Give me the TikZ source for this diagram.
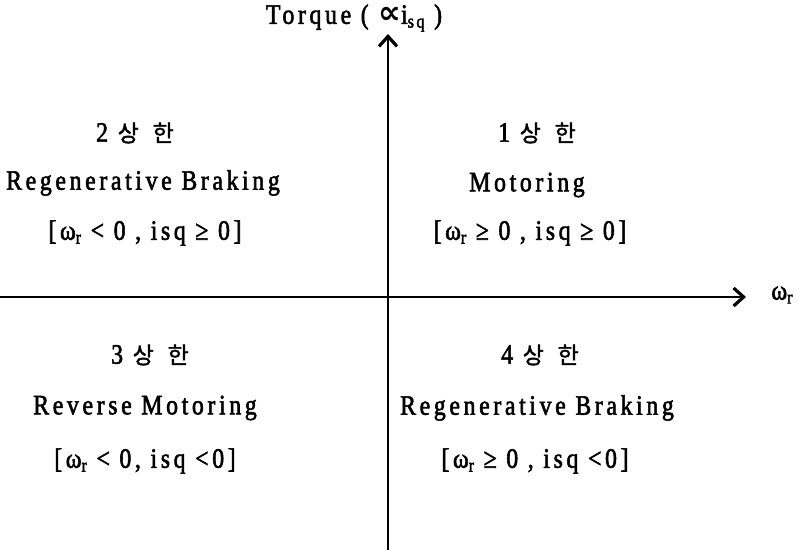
\documentclass[tikz,border=0pt]{standalone}
\usepackage{fontspec}
\setmainfont{Liberation Serif}[LetterSpace=13,FakeBold=2,FakeStretch=0.85]
\newfontfamily\kr{Noto Sans CJK KR}[FakeBold=1.5]
\newfontfamily\dv{DejaVu Sans}
\usetikzlibrary{arrows.meta}
\newcommand\mysub[1]{\raisebox{-0.3ex}{\fontsize{19}{19}\selectfont #1}}
\begin{document}
\begin{tikzpicture}[x=1pt,y=-1pt,
  lbl/.style={font=\fontsize{28}{30}\selectfont, inner sep=0pt, anchor=center},
  krl/.style={font=\fontsize{28}{30}\selectfont, inner sep=0pt, anchor=center},
  axis/.style={line width=2.6pt, -{Straight Barb[length=10pt,width=18pt,line width=3.2pt]}}]
\useasboundingbox (0,0) rectangle (805,552);
\coordinate (xl) at (0,297);
\coordinate (xr) at (746,297);
\coordinate (yb) at (388,550);
\coordinate (yt) at (388,34);
\draw[axis] (xl) -- (xr);
\draw[axis] (yb) -- (yt);
\node[lbl] (wr) at (782,295) {ω\mysub{r}};
\node[lbl] (tq) at (354,18) {Torque ( {\dv\bfseries\fontsize{32}{32}\selectfont ∝}i\mysub{sq} )};
% Quadrant 2
\node[krl] (q2a) at (135,133) {2 {\kr\fontsize{23}{24}\selectfont 상\hspace{0.6em}한}};
\node[lbl] (q2b) at (143,183) {Regenerative Braking};
\node[lbl] (q2c) at (145,233) {[ω\mysub{r} < 0 , isq ≥ 0]};
% Quadrant 1
\node[krl] (q1a) at (537,133) {1 {\kr\fontsize{23}{24}\selectfont 상\hspace{0.6em}한}};
\node[lbl] (q1b) at (527,185) {Motoring};
\node[lbl] (q1c) at (530,233) {[ω\mysub{r} ≥ 0 , isq ≥ 0]};
% Quadrant 3
\node[krl] (q3a) at (150,355) {3 {\kr\fontsize{23}{24}\selectfont 상\hspace{0.6em}한}};
\node[lbl] (q3b) at (145,408) {Reverse Motoring};
\node[lbl] (q3c) at (145,461) {[ω\mysub{r} < 0, isq <0]};
% Quadrant 4
\node[krl] (q4a) at (540,355) {4 {\kr\fontsize{23}{24}\selectfont 상\hspace{0.6em}한}};
\node[lbl] (q4b) at (537,408) {Regenerative Braking};
\node[lbl] (q4c) at (535,461) {[ω\mysub{r} ≥ 0 , isq <0]};
\end{tikzpicture}
\end{document}
